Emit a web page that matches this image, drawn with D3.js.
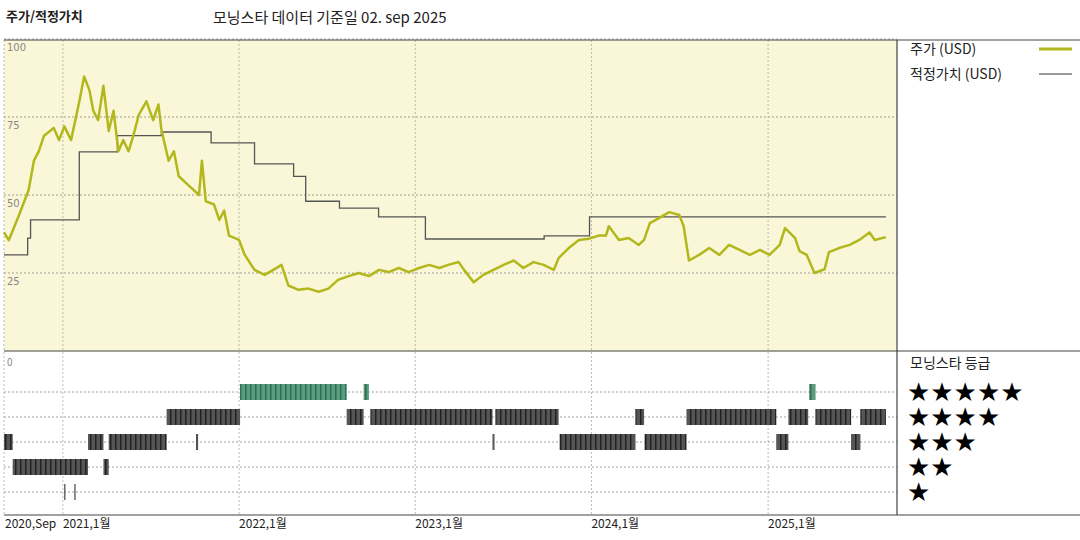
<!DOCTYPE html>
<html>
<head>
<meta charset="utf-8">
<script src="https://cdn.jsdelivr.net/npm/d3@7"></script>
<style>
  body { margin:0; background:#fff; font-family:"Noto Sans CJK KR","DejaVu Sans",sans-serif; }
  svg text { fill:#222; }
</style>
</head>
<body>
<svg id="chart" width="1080" height="540"></svg>
<script>
// price (USD)
const priceData = [
  ["2020-09-01",38],["2020-09-11",35.5],["2020-10-02",43.5],["2020-10-22",51.6],["2020-11-02",61],
  ["2020-11-12",64],["2020-11-23",69],["2020-12-13",71.5],["2020-12-24",67.6],["2021-01-04",72],
  ["2021-01-18",67.6],["2021-02-04",80],["2021-02-14",88],["2021-02-25",83.6],["2021-03-05",77],
  ["2021-03-15",74],["2021-03-26",85],["2021-04-06",70.5],["2021-04-16",77],["2021-04-26",64],
  ["2021-05-06",67.6],["2021-05-17",64],["2021-05-27",69],["2021-06-07",75.6],["2021-06-23",80],
  ["2021-07-07",74],["2021-07-18",79],["2021-07-24",71],["2021-08-08",61],["2021-08-19",64],
  ["2021-08-29",56],["2021-09-19",53],["2021-10-10",50],["2021-10-16",61],["2021-10-24",48],
  ["2021-11-10",47],["2021-11-21",42],["2021-12-01",45],["2021-12-11",37],["2022-01-01",35.6],
  ["2022-01-12",31],["2022-02-02",26],["2022-02-23",24.4],["2022-03-13",26],["2022-03-30",27.6],
  ["2022-04-13",21],["2022-05-04",19.6],["2022-05-25",20],["2022-06-15",19],["2022-07-05",20],
  ["2022-07-25",22.8],["2022-08-16",24],["2022-09-06",25],["2022-09-27",24],["2022-10-18",26],
  ["2022-11-07",25.3],["2022-11-28",26.6],["2022-12-18",25.3],["2023-01-09",26.6],["2023-01-30",27.6],
  ["2023-02-20",26.6],["2023-03-10",27.6],["2023-04-01",28.5],["2023-04-12",26],["2023-05-02",22],
  ["2023-05-22",24.4],["2023-06-12",26],["2023-07-03",27.6],["2023-07-24",29],["2023-08-13",26.6],
  ["2023-09-03",28.5],["2023-09-24",27.6],["2023-10-15",26],["2023-10-25",29.8],["2023-11-15",33],
  ["2023-12-06",35.6],["2023-12-27",36],["2024-01-17",37],["2024-01-31",37],["2024-02-06",40],
  ["2024-02-27",35.6],["2024-03-18",36.2],["2024-04-08",34],["2024-04-19",35.6],["2024-05-01",41],
  ["2024-05-20",42.6],["2024-06-10",44.5],["2024-07-01",43.6],["2024-07-10",40],["2024-07-21",29],
  ["2024-08-11",30.8],["2024-09-01",33],["2024-09-22",30.8],["2024-10-12",34],["2024-11-03",32.4],
  ["2024-11-24",30.8],["2024-12-15",32.4],["2025-01-04",30.8],["2025-01-25",34],["2025-02-05",39.4],
  ["2025-02-26",36.2],["2025-03-07",32],["2025-03-22",30.8],["2025-04-07",25],["2025-04-28",26.2],
  ["2025-05-07",31.7],["2025-05-28",33],["2025-06-19",34],["2025-07-09",35.6],["2025-07-30",38],
  ["2025-08-10",35.6],["2025-09-02",36.5]
];
// fair value (USD), step changes
const fairData = [
  ["2020-09-01",30.8],["2020-10-20",36.2],["2020-10-26",42],["2021-02-04",63.8],["2021-04-24",69],
  ["2021-07-24",70.2],["2021-11-04",66.7],["2022-02-02",60],["2022-04-24",56],["2022-05-19",48],
  ["2022-07-28",45.8],["2022-10-17",43],["2023-01-22",35.9],["2023-09-25",36.9],["2023-12-28",43],
  ["2025-09-02",43]
];
// star rating periods [start, end, stars]
const ratingData = [
  ["2020-09-01","2020-09-19",3],["2020-09-19","2021-02-22",2],["2021-02-22","2021-03-26",3],
  ["2021-03-26","2021-04-06",2],["2021-04-06","2021-08-04",3],["2021-10-04","2021-10-08",3],
  ["2021-08-04","2022-01-03",4],["2022-01-03","2022-08-12",5],["2022-08-12","2022-09-16",4],
  ["2022-09-16","2022-09-27",5],["2022-09-30","2023-06-10",4],["2023-06-10","2023-06-14",3],
  ["2023-06-16","2023-10-25",4],["2023-10-27","2024-04-01",3],["2024-04-01","2024-04-19",4],
  ["2024-04-20","2024-07-16",3],["2024-07-16","2025-01-18",4],["2025-01-18","2025-02-12",3],
  ["2025-02-12","2025-03-25",4],["2025-03-27","2025-04-09",5],["2025-04-09","2025-06-22",4],
  ["2025-06-22","2025-07-11",3],["2025-07-11","2025-09-02",4]
];
const oneStarTicks = ["2021-01-05","2021-01-26"];
const yTicks = [100, 75, 50, 25];
const xTicks = ["2021-01-01","2022-01-01","2023-01-01","2024-01-01","2025-01-01"];
const xTickLabels = ["2021,1월","2022,1월","2023,1월","2024,1월","2025,1월"];
const starRows = [5, 4, 3, 2, 1];

const parse = d3.timeParse("%Y-%m-%d");
const svg = d3.select("#chart");
const L = 4, R = 897, T = 40, MID = 351, B = 515;

const x = d3.scaleTime().domain([parse("2020-09-01"), parse("2025-09-25")]).range([L, R]);
const y = d3.scaleLinear().domain([0, 100]).range([MID, 39]);
const s = d3.scaleLinear().domain([5, 1]).range([392, 492]);

// backgrounds
svg.append("rect").attr("x", L).attr("y", T).attr("width", R - L).attr("height", MID - T).attr("fill", "#faf6d8");

const defs = svg.append("defs");
function stripes(id, a, b) {
  const p = defs.append("pattern").attr("id", id).attr("patternUnits", "userSpaceOnUse")
    .attr("width", 5).attr("height", 10);
  p.append("rect").attr("width", 5).attr("height", 10).attr("fill", a);
  p.append("rect").attr("width", 1.5).attr("height", 10).attr("fill", b);
}
stripes("grey", "#555", "#222");
stripes("green", "#5a9c80", "#2b6e50");

// grid
const grid = svg.append("g").attr("stroke", "#888").attr("stroke-dasharray", "2,2").attr("stroke-width", 0.8);
yTicks.forEach(v => grid.append("line").attr("x1", L).attr("x2", R).attr("y1", y(v)).attr("y2", y(v)));
starRows.forEach(v => grid.append("line").attr("x1", L).attr("x2", R).attr("y1", s(v)).attr("y2", s(v)));
[L].concat(xTicks.map(d => x(parse(d)))).forEach(px =>
  grid.append("line").attr("x1", px).attr("x2", px).attr("y1", T).attr("y2", B).attr("stroke", "#aaa"));

// y labels
svg.append("g").selectAll("text").data(yTicks).join("text")
  .attr("x", 7).attr("y", d => y(d) + 12).attr("font-size", 10).style("fill", "#888")
  .attr("font-family", "DejaVu Sans").text(d => d);
svg.append("text").attr("x", 7).attr("y", 366).attr("font-size", 10).style("fill", "#888").text("0");

// lines
svg.append("path").datum(fairData)
  .attr("d", d3.line().x(d => x(parse(d[0]))).y(d => y(d[1])).curve(d3.curveStepAfter))
  .attr("fill", "none").attr("stroke", "#555").attr("stroke-width", 1.3);
svg.append("path").datum(priceData)
  .attr("d", d3.line().x(d => x(parse(d[0]))).y(d => y(d[1])))
  .attr("fill", "none").attr("stroke", "#b2b81c").attr("stroke-width", 2.5).attr("stroke-linejoin", "round");

// ratings
svg.append("g").selectAll("rect").data(ratingData).join("rect")
  .attr("x", d => x(parse(d[0]))).attr("width", d => Math.max(2, x(parse(d[1])) - x(parse(d[0]))))
  .attr("y", d => s(d[2]) - 8).attr("height", 16)
  .attr("fill", d => d[2] === 5 ? "url(#green)" : "url(#grey)");
svg.append("g").selectAll("line").data(oneStarTicks).join("line")
  .attr("x1", d => x(parse(d))).attr("x2", d => x(parse(d)))
  .attr("y1", s(1) - 8).attr("y2", s(1) + 8).attr("stroke", "#444").attr("stroke-width", 1.2);

// frame
const fr = svg.append("g").attr("stroke", "#444").attr("stroke-width", 1.2);
fr.append("line").attr("x1", L).attr("x2", 1080).attr("y1", T).attr("y2", T);
fr.append("line").attr("x1", L).attr("x2", 1080).attr("y1", MID).attr("y2", MID);
fr.append("line").attr("x1", L).attr("x2", 1080).attr("y1", B).attr("y2", B);
fr.append("line").attr("x1", R).attr("x2", R).attr("y1", T).attr("y2", B);

// x labels
svg.append("text").attr("x", 5).attr("y", 528).attr("font-size", 12).text("2020,Sep");
svg.append("g").selectAll("text").data(xTicks).join("text")
  .attr("x", d => x(parse(d))).attr("y", 528).attr("font-size", 12)
  .text((d, i) => xTickLabels[i]);

// titles
svg.append("text").attr("x", 6).attr("y", 21).attr("font-size", 13).attr("font-weight", "bold").text("주가/적정가치");
svg.append("text").attr("x", 213).attr("y", 23).attr("font-size", 15).text("모닝스타 데이터 기준일 02. sep 2025");

// legend
svg.append("text").attr("x", 910).attr("y", 54).attr("font-size", 14).text("주가 (USD)");
svg.append("line").attr("x1", 1039).attr("x2", 1072).attr("y1", 49).attr("y2", 49).attr("stroke", "#b2b81c").attr("stroke-width", 3);
svg.append("text").attr("x", 910).attr("y", 79).attr("font-size", 14).text("적정가치 (USD)");
svg.append("line").attr("x1", 1039).attr("x2", 1072).attr("y1", 74).attr("y2", 74).attr("stroke", "#777").attr("stroke-width", 1.3);
svg.append("text").attr("x", 910).attr("y", 368).attr("font-size", 14).text("모닝스타 등급");
svg.append("g").selectAll("text").data(starRows).join("text")
  .attr("x", 907).attr("y", d => s(d) + 9).attr("font-size", 26).attr("font-family", "DejaVu Sans")
  .style("fill", "#000").text(d => "★".repeat(d));
</script>
</body>
</html>
